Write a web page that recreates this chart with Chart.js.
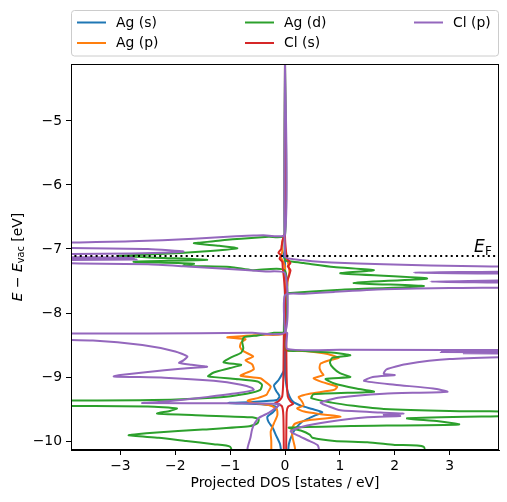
<!DOCTYPE html>
<html lang="en">
<head>
<meta charset="UTF-8">
<title>Projected DOS</title>
<script src="https://cdn.jsdelivr.net/npm/chart.js"></script>
<style>
  body { margin: 0; background: #fff; }
  #wrap { width: 507px; height: 502px; }
</style>
</head>
<body>
<div id="wrap"><canvas id="dosChart" width="507" height="502"></canvas></div>
<script>
// [energy (eV), DOS (states/eV)] -- spin down is stored as negative DOS
const agS_up = [[-4.0,0],[-7.05,0],[-7.1,0.03],[-7.15,0],[-8.95,0],[-9.1,0.02],[-9.2,0.04],[-9.3,0.08],[-9.36,0.12],[-9.4,0.17],[-9.45,0.3],[-9.5,0.5],[-9.55,0.68],[-9.6,0.55],[-9.66,0.4],[-9.7,0.31],[-9.8,0.2],[-9.9,0.13],[-10.05,0.07],[-10.3,0.05]];
const agS_down = [[-4.0,0],[-7.02,0],[-7.1,-0.03],[-7.18,0],[-8.85,0],[-8.95,-0.05],[-9.05,-0.12],[-9.13,-0.2],[-9.22,-0.16],[-9.3,-0.1],[-9.36,-0.15],[-9.39,-0.6],[-9.405,-1.03],[-9.43,-0.39],[-9.47,-0.15],[-9.55,-0.22],[-9.62,-0.32],[-9.7,-0.3],[-9.8,-0.22],[-9.9,-0.17],[-10.05,-0.09],[-10.3,-0.05]];

const agP_up = [[-4.0,0],[-7.1,0],[-7.2,0.05],[-7.35,0.08],[-7.5,0.05],[-7.65,0.03],[-7.72,0],[-8.57,0],[-8.59,0.2],[-8.6,0.45],[-8.63,0.7],[-8.66,0.85],[-8.7,0.98],[-8.74,0.8],[-8.79,0.65],[-8.86,0.63],[-8.92,0.66],[-8.97,0.7],[-9.02,0.52],[-9.08,0.68],[-9.15,0.95],[-9.2,0.9],[-9.26,0.45],[-9.31,0.25],[-9.37,0.3],[-9.44,0.34],[-9.49,0.22],[-9.54,0.35],[-9.58,0.65],[-9.62,1.01],[-9.67,0.45],[-9.73,0.18],[-9.82,0.12],[-9.95,0.14],[-10.1,0.18],[-10.3,0.2]];
const agP_down = [[-4.0,0],[-6.8,0],[-6.85,-0.04],[-6.95,-0.06],[-7.05,-0.05],[-7.12,-0.08],[-7.2,-0.03],[-7.3,0],[-8.31,0],[-8.34,-0.4],[-8.38,-1.05],[-8.41,-0.72],[-8.46,-0.8],[-8.53,-0.82],[-8.6,-0.75],[-8.68,-0.58],[-8.74,-0.72],[-8.8,-0.6],[-8.88,-0.57],[-8.94,-0.72],[-8.98,-0.81],[-9.02,-0.45],[-9.08,-0.35],[-9.15,-0.26],[-9.22,-0.3],[-9.28,-0.34],[-9.33,-0.5],[-9.37,-0.68],[-9.4,-0.6],[-9.44,-0.28],[-9.5,-0.15],[-9.6,-0.14],[-9.72,-0.2],[-9.85,-0.26],[-10.0,-0.25],[-10.3,-0.25]];

const agD_up = [[-4.0,0],[-7.17,0],[-7.2,0.15],[-7.22,0.34],[-7.28,0.89],[-7.33,1.62],[-7.38,1.01],[-7.46,2.59],[-7.53,1.25],[-7.58,2.53],[-7.64,0.95],[-7.69,0.03],[-7.7,0],[-8.57,0],[-8.59,0.3],[-8.62,0.9],[-8.66,1.19],[-8.7,0.86],[-8.78,0.82],[-8.86,0.88],[-8.94,1.0],[-9.0,1.19],[-9.03,0.74],[-9.1,0.9],[-9.18,1.3],[-9.23,1.62],[-9.27,0.52],[-9.33,0.48],[-9.4,0.85],[-9.45,1.25],[-9.5,1.8],[-9.53,3.0],[-9.55,5],[-9.59,5],[-9.645,2.23],[-9.69,2.8],[-9.74,3.17],[-9.765,1.2],[-9.79,0.07],[-9.84,0.3],[-9.9,0.45],[-9.95,0.5],[-10.0,0.9],[-10.02,1.5],[-10.06,2.0],[-10.09,2.53],[-10.3,2.55]];
const agD_down = [[-4.0,0],[-6.79,0],[-6.81,-0.3],[-6.84,-0.8],[-6.86,-1.1],[-6.88,-1.3],[-6.91,-1.66],[-6.95,-1.2],[-6.99,-0.87],[-7.04,-1.5],[-7.08,-2.3],[-7.11,-3.06],[-7.14,-2.2],[-7.17,-1.42],[-7.2,-2.76],[-7.23,-1.66],[-7.26,-1.85],[-7.28,-1.0],[-7.33,-0.6],[-7.34,0],[-8.29,0],[-8.31,-0.2],[-8.35,-0.5],[-8.38,-0.75],[-8.45,-0.78],[-8.55,-0.76],[-8.62,-0.8],[-8.7,-1.0],[-8.77,-1.12],[-8.81,-0.8],[-8.86,-1.0],[-8.93,-1.3],[-8.99,-1.4],[-9.03,-0.9],[-9.07,-0.5],[-9.12,-0.42],[-9.2,-0.45],[-9.26,-0.7],[-9.32,-1.24],[-9.36,-2.4],[-9.38,-5],[-9.44,-5],[-9.46,-2.5],[-9.49,-1.97],[-9.53,-2.1],[-9.57,-2.33],[-9.6,-1.5],[-9.63,-0.6],[-9.66,-0.48],[-9.72,-0.5],[-9.77,-0.65],[-9.82,-1.5],[-9.87,-2.4],[-9.91,-2.85],[-9.95,-2.3],[-10.0,-1.8],[-10.05,-1.3],[-10.09,-1.0],[-10.3,-0.93]];

const clS_up = [[-4.0,0],[-6.8,0],[-7.05,0.02],[-7.15,0.04],[-7.22,0.1],[-7.27,0.05],[-7.33,0.1],[-7.4,0.08],[-7.5,0.04],[-7.6,0.03],[-7.72,0],[-8.28,0],[-8.35,0.02],[-9.0,0.03],[-9.3,0.05],[-9.38,0.1],[-9.42,0.15],[-9.46,0.06],[-9.55,0.03],[-10.3,0.02]];
const clS_down = [[-4.0,0],[-6.75,0],[-6.82,-0.03],[-6.9,-0.05],[-7.0,-0.07],[-7.06,-0.12],[-7.1,-0.07],[-7.15,-0.1],[-7.2,-0.05],[-7.3,-0.04],[-7.45,-0.02],[-7.7,0],[-8.28,0],[-8.35,-0.02],[-9.0,-0.03],[-9.3,-0.05],[-9.38,-0.12],[-9.41,-0.18],[-9.45,-0.06],[-9.6,-0.03],[-10.3,-0.02]];

const clP_up = [[-4.0,0],[-7.12,0],[-7.16,0.15],[-7.19,0.5],[-7.21,0.85],[-7.24,1.8],[-7.27,3.5],[-7.29,5],[-7.34,5],[-7.37,2.35],[-7.4,5],[-7.47,5],[-7.51,2.65],[-7.54,5],[-7.59,5],[-7.61,3.0],[-7.63,1.8],[-7.67,0.9],[-7.7,0.35],[-7.72,0],[-8.3,0],[-8.31,0.04],[-8.56,0.04],[-8.575,1.0],[-8.58,5],[-8.6,5],[-8.61,2.84],[-8.62,5],[-8.63,3.26],[-8.64,5],[-8.66,5],[-8.72,3.0],[-8.8,2.2],[-8.88,1.85],[-8.95,1.8],[-8.97,2.0],[-9.0,1.6],[-9.06,1.44],[-9.12,2.0],[-9.18,2.7],[-9.23,2.96],[-9.26,1.8],[-9.32,1.0],[-9.4,0.65],[-9.46,0.8],[-9.52,1.01],[-9.555,1.74],[-9.57,2.16],[-9.59,1.8],[-9.61,2.1],[-9.63,1.5],[-9.7,0.8],[-9.78,0.3],[-9.85,0.1],[-9.92,0.25],[-10.0,0.45],[-10.07,0.6],[-10.3,0.65]];
const clP_down = [[-4.0,0],[-6.77,0],[-6.785,-0.4],[-6.8,-0.9],[-6.84,-1.66],[-6.88,-2.8],[-6.92,-5],[-6.97,-5],[-7.0,-2.5],[-7.04,-1.85],[-7.07,-2.8],[-7.09,-5],[-7.12,-5],[-7.135,-2.76],[-7.15,-5],[-7.165,-2.7],[-7.18,-5],[-7.21,-5],[-7.24,-2.5],[-7.27,-1.85],[-7.31,-1.1],[-7.35,-0.35],[-7.38,0],[-8.3,0],[-8.31,-0.6],[-8.32,-2.5],[-8.33,-5],[-8.4,-5],[-8.43,-3.5],[-8.5,-2.6],[-8.6,-2.0],[-8.68,-1.78],[-8.74,-1.85],[-8.78,-1.93],[-8.81,-1.7],[-8.84,-1.42],[-8.87,-1.9],[-8.92,-2.5],[-8.97,-3.0],[-8.99,-3.12],[-9.01,-2.2],[-9.06,-1.3],[-9.12,-0.8],[-9.17,-0.6],[-9.2,-0.57],[-9.25,-0.85],[-9.31,-1.4],[-9.36,-1.9],[-9.39,-2.3],[-9.405,-2.6],[-9.41,-1.0],[-9.42,-0.1],[-9.45,-0.12],[-9.5,-0.2],[-9.56,-0.3],[-9.64,-0.48],[-9.72,-0.55],[-9.82,-0.6],[-9.95,-0.63],[-10.1,-0.68],[-10.3,-0.7]];

const seriesLabels = ['Ag (s)', 'Ag (p)', 'Ag (d)', 'Cl (s)', 'Cl (p)'];
const spinUp = [agS_up, agP_up, agD_up, clS_up, clP_up];
const spinDown = [agS_down, agP_down, agD_down, clS_down, clP_down];
const fermiLevel = -7.11;
const xTicks = [-3, -2, -1, 0, 1, 2, 3];
const yTicks = [-10, -9, -8, -7, -6, -5];

const colors = ['#1f77b4', '#ff7f0e', '#2ca02c', '#d62728', '#9467bd'];
const FONT = 'DejaVu Sans';
const X_MIN = -3.9, X_MAX = 3.9, Y_MIN = -10.14, Y_MAX = -4.11;

const minus = v => String(v).replace('-', '\u2212');

const datasets = [];
seriesLabels.forEach((label, i) => {
    [spinUp[i], spinDown[i]].forEach(branch => {
        datasets.push({
            label: label,
            data: branch.map(p => ({ x: p[1], y: p[0] })),
            borderColor: colors[i],
            borderWidth: 2,
            showLine: true,
            pointRadius: 0,
            tension: 0.2,
            fill: false,
            clip: 0,
            order: 10 - i   // later series drawn on top, like matplotlib
        });
    });
});
// Fermi level
datasets.push({
    label: 'E_F',
    data: [{ x: X_MIN - 1, y: fermiLevel }, { x: X_MAX + 1, y: fermiLevel }],
    borderColor: '#000',
    borderWidth: 2,
    borderDash: [2, 3.3],
    showLine: true,
    pointRadius: 0,
    clip: 0,
    order: 0
});

// frame, legend, E_F text and y label with subscripts
const decor = {
    id: 'decor',
    afterDraw(chart) {
        const ctx = chart.ctx, a = chart.chartArea;
        ctx.save();
        ctx.strokeStyle = '#000';
        ctx.lineWidth = 1;
        ctx.strokeRect(Math.round(a.left) + 0.5, Math.round(a.top) + 0.5,
            Math.round(a.right - a.left) - 1, Math.round(a.bottom - a.top) - 1);

        // E_F label
        const fy = chart.scales.y.getPixelForValue(fermiLevel);
        const fx = chart.scales.x.getPixelForValue(X_MAX);
        ctx.fillStyle = '#000';
        ctx.textBaseline = 'alphabetic';
        ctx.textAlign = 'left';
        ctx.font = 'italic 17px "' + FONT + '"';
        ctx.fillText('E', fx - 25, fy - 4);
        ctx.font = '12px "' + FONT + '"';
        ctx.fillText('F', fx - 14, fy - 1.5);

        // y axis title
        const parts = [
            { t: 'E', f: 'italic 13.9px "' + FONT + '"', dy: 0 },
            { t: ' \u2212 ', f: '13.9px "' + FONT + '"', dy: 0 },
            { t: 'E', f: 'italic 13.9px "' + FONT + '"', dy: 0 },
            { t: 'vac', f: '9.7px "' + FONT + '"', dy: 3 },
            { t: ' [eV]', f: '13.9px "' + FONT + '"', dy: 0 }
        ];
        let w = 0;
        parts.forEach(p => { ctx.font = p.f; p.w = ctx.measureText(p.t).width; w += p.w; });
        ctx.translate(18, (a.top + a.bottom) / 2);
        ctx.rotate(-Math.PI / 2);
        ctx.textBaseline = 'middle';
        let x = -w / 2;
        parts.forEach(p => { ctx.font = p.f; ctx.fillText(p.t, x, p.dy); x += p.w; });
        ctx.restore();

        // legend box (3 columns, column-major like matplotlib)
        ctx.save();
        ctx.fillStyle = 'rgba(255,255,255,0.8)';
        ctx.strokeStyle = '#cccccc';
        ctx.lineWidth = 1;
        ctx.beginPath();
        ctx.roundRect(71.5, 10.5, 427, 45.5, 3);
        ctx.fill();
        ctx.stroke();
        const colX = [77, 245, 414];
        const rowY = [22.5, 43];
        ctx.font = '13.9px "' + FONT + '"';
        ctx.textBaseline = 'middle';
        ctx.textAlign = 'left';
        seriesLabels.forEach((label, i) => {
            const c = Math.floor(i / 2), r = i % 2;
            ctx.strokeStyle = colors[i];
            ctx.lineWidth = 2;
            ctx.beginPath();
            ctx.moveTo(colX[c], rowY[r]);
            ctx.lineTo(colX[c] + 29, rowY[r]);
            ctx.stroke();
            ctx.fillStyle = '#000';
            ctx.fillText(label, colX[c] + 39, rowY[r] + 0.5);
        });
        ctx.restore();
    }
};

new Chart(document.getElementById('dosChart'), {
    type: 'scatter',
    data: { datasets: datasets },
    options: {
        responsive: false,
        animation: false,
        events: [],
        layout: { padding: { top: 64, right: 8, left: 0, bottom: 0 } },
        plugins: { legend: { display: false }, tooltip: { enabled: false } },
        scales: {
            x: {
                type: 'linear',
                min: X_MIN,
                max: X_MAX,
                afterBuildTicks: s => { s.ticks = xTicks.map(v => ({ value: v })); },
                afterFit: s => { s.height = 52; },
                grid: { display: true, drawOnChartArea: false, drawTicks: true, tickLength: 5, color: '#000' },
                border: { display: true, color: '#000', width: 1 },
                ticks: { color: '#000', padding: 3, maxRotation: 0, font: { family: FONT, size: 13.9 }, callback: v => minus(v) },
                title: { display: true, text: 'Projected DOS [states / eV]', color: '#000', font: { family: FONT, size: 13.9 }, padding: { top: 4, bottom: 10 } }
            },
            y: {
                type: 'linear',
                min: Y_MIN,
                max: Y_MAX,
                afterBuildTicks: s => { s.ticks = yTicks.map(v => ({ value: v })); },
                afterFit: s => { s.width = 71; },
                grid: { display: true, drawOnChartArea: false, drawTicks: true, tickLength: 5, color: '#000' },
                border: { display: true, color: '#000', width: 1 },
                ticks: { color: '#000', padding: 4, font: { family: FONT, size: 13.9 }, callback: v => minus(v) }
            }
        }
    },
    plugins: [decor]
});
</script>
</body>
</html>
